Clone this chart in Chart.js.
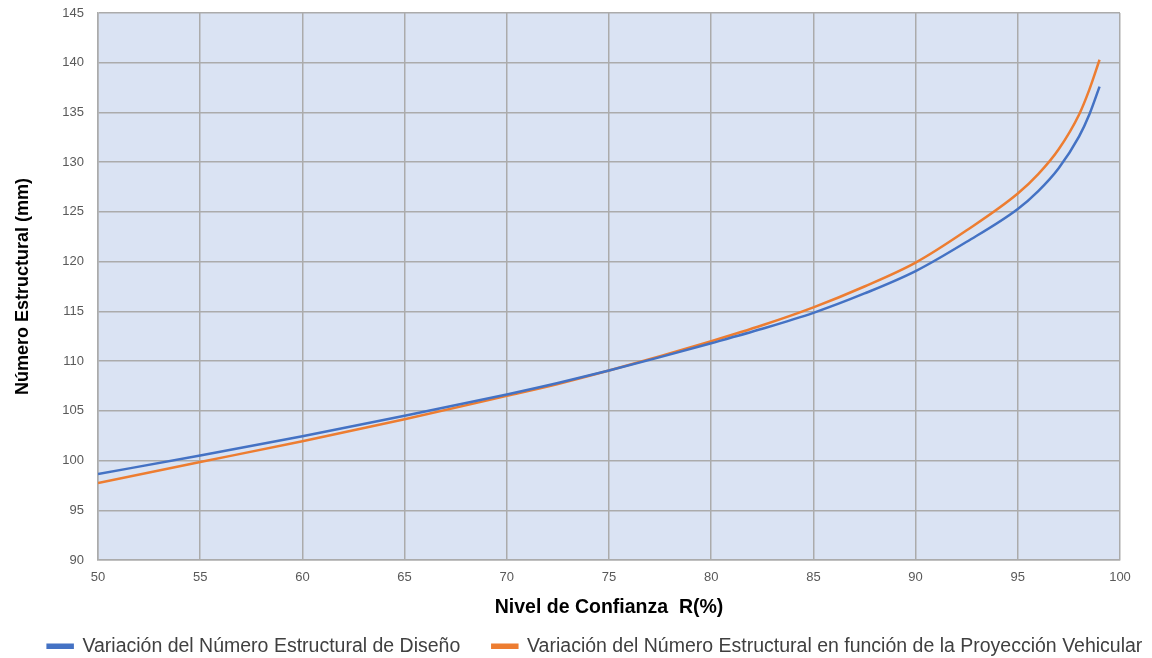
<!DOCTYPE html>
<html lang="es">
<head>
<meta charset="UTF-8" />
<title>Número Estructural vs Nivel de Confianza</title>
<script src="https://cdn.jsdelivr.net/npm/chart.js"></script>
<style>
  html, body { margin: 0; padding: 0; background: #fff; }
  #wrap { width: 1152px; height: 658px; }
</style>
</head>
<body>
<div id="wrap"><canvas id="myChart"></canvas></div>
<script>
// Nivel de confianza R(%)
const confianza = [50, 55, 60, 65, 70, 72.5, 75, 77.5, 80, 82.5, 85, 87.5, 90, 92.5, 95, 96, 97, 98, 98.5, 99];
// Número estructural de diseño (mm)
const snDiseno = [98.65, 100.5, 102.45, 104.5, 106.65, 107.8, 109.05, 110.4, 111.8, 113.25, 114.85, 116.8, 119.05, 122.0, 125.3, 127.1, 129.4, 132.6, 134.8, 137.6];
// Número estructural en función de la proyección vehicular (mm)
const snProyeccion = [97.75, 99.85, 101.95, 104.15, 106.5, 107.7, 109.05, 110.5, 112.0, 113.6, 115.4, 117.5, 119.9, 123.15, 126.85, 128.8, 131.3, 134.8, 137.3, 140.3];

const fontFam = "'Liberation Sans', Arial, sans-serif";

// fondo azul claro del área de trazado
const plotBg = {
  id: 'plotBg',
  beforeDraw(chart) {
    const { ctx, chartArea: a } = chart;
    ctx.save();
    ctx.fillStyle = '#DAE3F3';
    ctx.fillRect(a.left, a.top, a.right - a.left, a.bottom - a.top);
    ctx.restore();
  }
};

const toPts = (ys) => confianza.map((x, i) => ({ x: x, y: ys[i] }));

new Chart(document.getElementById('myChart'), {
  type: 'line',
  data: {
    datasets: [
      {
        label: 'Variación del Número Estructural de Diseño',
        data: toPts(snDiseno),
        borderColor: '#4472C4',
        backgroundColor: '#4472C4',
        borderWidth: 2.5,
        pointRadius: 0,
        cubicInterpolationMode: 'monotone'
      },
      {
        label: 'Variación del Número Estructural en función de la Proyección Vehicular',
        data: toPts(snProyeccion),
        borderColor: '#ED7D31',
        backgroundColor: '#ED7D31',
        borderWidth: 2.5,
        pointRadius: 0,
        cubicInterpolationMode: 'monotone'
      }
    ]
  },
  options: {
    responsive: true,
    maintainAspectRatio: false,
    animation: false,
    layout: { padding: { top: 0, right: -25, left: 13, bottom: -8 } },
    plugins: {
      tooltip: { enabled: false },
      legend: {
        position: 'bottom',
        labels: {
          color: '#404040',
          font: { family: fontFam, size: 19.5 },
          boxWidth: 25,
          boxHeight: 3,
          padding: 32
        }
      }
    },
    scales: {
      x: {
        type: 'linear',
        min: 50,
        max: 100,
        ticks: { stepSize: 5, color: '#595959', font: { family: fontFam, size: 13 }, padding: 10 },
        grid: { color: '#ABABAB', lineWidth: 1.5, drawTicks: false },
        border: { color: '#ABABAB', width: 1.5 },
        title: {
          display: true,
          text: 'Nivel de Confianza  R(%)',
          color: '#000',
          font: { family: fontFam, size: 19.5, weight: 'bold' },
          padding: { top: 0, bottom: -15 }
        },
        afterFit(s) { s.height = 44.5; }
      },
      y: {
        min: 90,
        max: 145,
        ticks: { stepSize: 5, color: '#595959', font: { family: fontFam, size: 13 }, padding: 14 },
        grid: { color: '#ABABAB', lineWidth: 1.5, drawTicks: false },
        border: { color: '#ABABAB', width: 1.5 },
        title: {
          display: true,
          text: 'Número Estructural (mm)',
          color: '#000',
          font: { family: fontFam, size: 18, weight: 'bold' },
          padding: { top: -1, bottom: 0 }
        },
        afterFit(s) {
          s.width = 85;
          s.paddingTop = 13;   // margen superior del área de trazado
          s.paddingBottom = 8;
        }
      },
      // eje vacío a la derecha para dejar margen
      yRight: {
        type: 'linear',
        position: 'right',
        grid: { display: false },
        border: { display: false },
        ticks: { display: false },
        afterFit(s) { s.width = 57; }
      }
    }
  },
  plugins: [plotBg]
});
</script>
</body>
</html>
